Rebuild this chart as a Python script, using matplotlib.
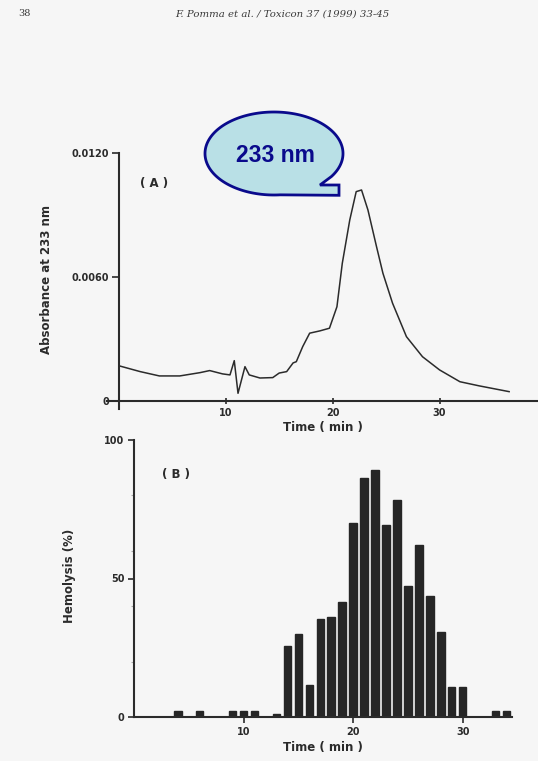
import matplotlib
matplotlib.use("Agg")
import matplotlib.pyplot as plt
import numpy as np
from matplotlib.patches import Polygon

# panel A: absorbance trace at 233 nm
time_a = [0.1, 2.0, 3.8, 5.7, 7.6, 8.5, 9.7, 10.4, 10.8, 11.15, 11.8, 12.2, 13.2,
          14.4, 15.0, 15.7, 16.3, 16.6, 17.2, 17.85, 18.8, 19.7, 20.4, 20.9,
          21.6, 22.2, 22.7, 23.3, 24.1, 24.7, 25.6, 26.9, 28.4, 30.0, 31.9,
          33.7, 36.5]
absorb = [0.00169, 0.00142, 0.00121, 0.00121, 0.00137, 0.00147, 0.00131, 0.00126,
          0.00195, 0.00037, 0.00166, 0.00126, 0.00111, 0.00113, 0.00135, 0.00142,
          0.00184, 0.00190, 0.00263, 0.00328, 0.00339, 0.00352, 0.00456, 0.00666,
          0.00876, 0.01013, 0.01021, 0.00924, 0.00747, 0.00618, 0.00473, 0.00311,
          0.00214, 0.00150, 0.00093, 0.00073, 0.00045]

# panel B: hemolysis per fraction
time_b = [4, 6, 9, 10, 11, 13, 14, 15, 16, 17, 18, 19, 20, 21, 22, 23, 24, 25,
          26, 27, 28, 29, 30, 33, 34]
hemolysis = [2, 2, 2, 2, 2, 1, 25.6, 30, 11.5, 35.3, 36.2, 41.6, 70.2, 86.4, 89.2,
             69.3, 78.3, 47.3, 62, 43.7, 30.8, 10.9, 10.9, 2, 2]

W, H = 538, 761
ink = "#2b2b2b"
bg = "#f6f6f6"

fig = plt.figure(figsize=(W / 100, H / 100), dpi=100, facecolor=bg)

def box(x0, y0, x1, y1):
    # pixel box (y down) -> figure fraction rect
    return [x0 / W, 1 - y1 / H, (x1 - x0) / W, (y1 - y0) / H]

tick_font = dict(fontsize=7, fontweight="bold", color=ink, family="DejaVu Sans")
lab_font = dict(fontsize=8.5, fontweight="bold", color=ink, family="DejaVu Sans")

# ---- panel A
axA = fig.add_axes(box(107, 153, 538, 409))
axA.set_facecolor("none")
axA.plot(time_a, absorb, color=ink, lw=1.1)
axA.set_xlim(-1.1, 39.2)
axA.set_ylim(-0.00039, 0.0120)
for s in ["top", "right"]:
    axA.spines[s].set_visible(False)
axA.spines["left"].set_position(("data", 0))
axA.spines["bottom"].set_position(("data", 0))
for s in ["left", "bottom"]:
    axA.spines[s].set_linewidth(1.5)
    axA.spines[s].set_color(ink)
axA.spines["left"].set_bounds(-0.00039, 0.0120)
axA.set_yticks([0, 0.006, 0.012])
axA.set_yticklabels(["0", "0.0060", "0.0120"], **tick_font)
axA.set_xticks([10, 20, 30])
axA.set_xticklabels(["10", "20", "30"], **tick_font)
axA.tick_params(axis="y", direction="out", length=5, width=1.2, color=ink, pad=2)
axA.tick_params(axis="x", direction="inout", length=4, width=1.2, color=ink, pad=3)
axA.set_xlabel("Time ( min )", labelpad=2, **lab_font)
fig.text(47 / W, 1 - 280 / H, "Absorbance at 233 nm", rotation=90,
         ha="center", va="center", **lab_font)
fig.text(154 / W, 1 - 184 / H, "( A )", ha="center", va="center", **lab_font)

# ---- panel B
axB = fig.add_axes(box(134, 440, 512, 717))
axB.set_facecolor("none")
axB.bar(time_b, hemolysis, width=0.68, color="#262626", edgecolor="#262626")
axB.set_xlim(0, 34.5)
axB.set_ylim(0, 100)
for s in ["top", "right"]:
    axB.spines[s].set_visible(False)
for s in ["left", "bottom"]:
    axB.spines[s].set_linewidth(1.5)
    axB.spines[s].set_color(ink)
axB.set_yticks([0, 50, 100])
axB.set_yticklabels(["0", "50", "100"], **tick_font)
axB.set_yticks([20, 40, 60, 80], minor=True)
axB.set_xticks([10, 20, 30])
axB.set_xticklabels(["10", "20", "30"], **tick_font)
axB.tick_params(axis="both", which="major", direction="out", length=4, width=1.2,
                color=ink, pad=3)
axB.tick_params(axis="y", which="minor", direction="out", length=2, width=0.8,
                color="#aaaaaa")
axB.set_xlabel("Time ( min )", labelpad=3, **lab_font)
fig.text(69 / W, 1 - 576 / H, "Hemolysis (%)", rotation=90,
         ha="center", va="center", **lab_font)
fig.text(176 / W, 1 - 474 / H, "( B )", ha="center", va="center", **lab_font)

# ---- page header
fig.text(18 / W, 1 - 14 / H, "38", fontsize=7, color="#3a3a3a",
         family="DejaVu Serif", ha="left", va="center")
fig.text(282 / W, 1 - 14 / H, "F. Pomma et al. / Toxicon 37 (1999) 33-45",
         fontsize=7.3, color="#3a3a3a", style="italic", family="DejaVu Serif",
         ha="center", va="center")

# ---- speech bubble callout
cx, cy, a, b = 274, 153.5, 69, 41.5
ang = np.radians(np.linspace(33.8, 33.8 - 308.8, 200))
pts = [(cx + a * np.cos(t), cy + b * np.sin(t)) for t in ang]
pts += [(339, 195.3), (339, 185), (320, 185)]
pts = [(x / W, 1 - y / H) for x, y in pts]
fig.patches.append(Polygon(pts, closed=True, transform=fig.transFigure,
                           facecolor="#b9e0e6", edgecolor="#0a0a8c",
                           lw=2.0, joinstyle="miter", zorder=5))
fig.text(275 / W, 1 - 156 / H, "233 nm", fontsize=16.5, fontweight="bold",
         color="#0a0a8c", family="Liberation Sans", ha="center", va="center",
         zorder=6)

fig.savefig("out.png", dpi=100, facecolor=bg)
